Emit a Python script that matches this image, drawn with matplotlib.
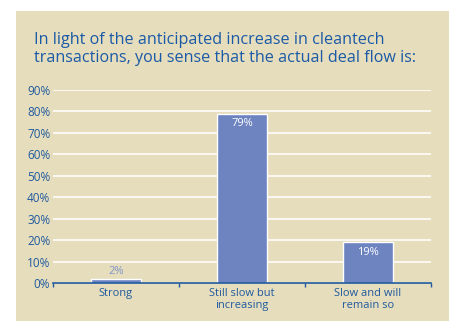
import matplotlib
matplotlib.use('Agg')
from matplotlib import pyplot as plt
from matplotlib.patches import Rectangle

categories = ['Strong', 'Still slow but\nincreasing', 'Slow and will\nremain so']
values = [2, 79, 19]
yticks = [0, 10, 20, 30, 40, 50, 60, 70, 80, 90]

W, H = 449, 322
BEIGE = '#e6ddbd'
BAR = '#6e84c1'
BLUE = '#1f5a9e'

plt.rcParams['font.family'] = ['Open Sans', 'DejaVu Sans']

fig = plt.figure(figsize=(W / 100, H / 100), dpi=100, facecolor='white')

# beige panel behind everything
fig.patches.append(Rectangle((16 / W, 1 - 321 / H), (449 - 16) / W, (321 - 11) / H,
                             transform=fig.transFigure, facecolor=BEIGE,
                             edgecolor='none', zorder=-10))

fig.text(34 / W, 1 - 32 / H,
         'In light of the anticipated increase in cleantech\n'
         'transactions, you sense that the actual deal flow is:',
         color='#1a5aa6', fontsize=11.6, va='top', ha='left', linespacing=1.2)

ax = fig.add_axes([53 / W, 1 - 283 / H, (431 - 53) / W, (283 - 90) / H])
ax.set_facecolor('none')

x = range(len(categories))
bars = ax.bar(x, values, width=0.39, color=BAR, edgecolor='white', linewidth=1, zorder=3)

ax.set_xlim(-0.5, len(categories) - 0.5)
ax.set_ylim(0, 90)
ax.set_yticks(yticks)
ax.set_yticklabels([f'{v}%' for v in yticks])
ax.grid(axis='y', color='white', linewidth=1.1, zorder=1)
ax.set_axisbelow(True)

# categories sit between boundary tick marks
ax.set_xticks([i - 0.5 for i in range(len(categories) + 1)])
ax.set_xticklabels([])
ax.tick_params(axis='x', direction='out', length=3, width=1, color=BLUE)
for i, c in enumerate(categories):
    ax.text(i, -2.2, c, ha='center', va='top', color=BLUE, fontsize=8,
            linespacing=1.15, transform=ax.transData)

ax.tick_params(axis='y', length=0, pad=2, labelsize=8.5, labelcolor=BLUE)
for s in ['top', 'right', 'left']:
    ax.spines[s].set_visible(False)
ax.spines['bottom'].set_color(BLUE)
ax.spines['bottom'].set_linewidth(1.2)
ax.spines['bottom'].set_zorder(4)

# value labels: small bar gets a label above, tall ones inside
for b, v in zip(bars, values):
    cx = b.get_x() + b.get_width() / 2
    if v < 10:
        ax.text(cx, v + 0.8, f'{v}%', ha='center', va='bottom', color='#8096c8', fontsize=8)
    else:
        ax.text(cx, v - 2.2, f'{v}%', ha='center', va='top', color='white', fontsize=8)

fig.savefig('out.png', dpi=100, facecolor='white')
